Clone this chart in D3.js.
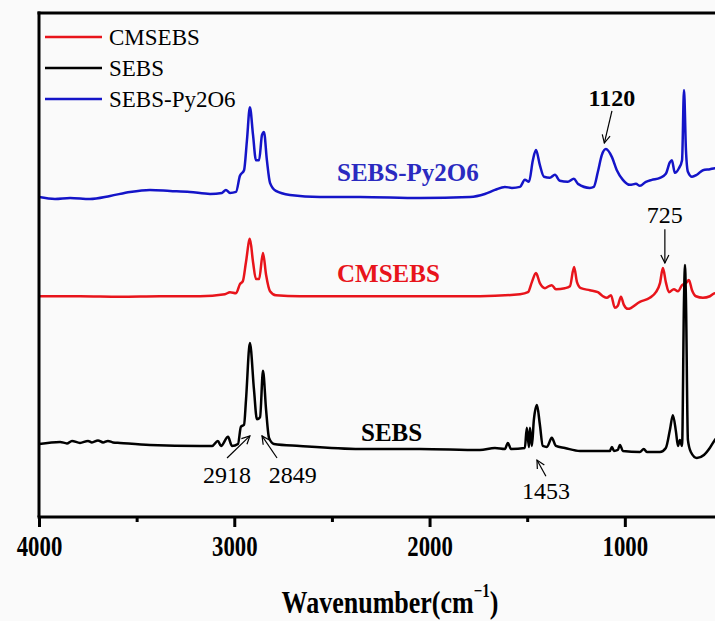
<!DOCTYPE html>
<html lang="en">
<head>
<meta charset="utf-8">
<title>FTIR spectra</title>
<script src="https://cdn.jsdelivr.net/npm/d3@7"></script>
<style>
  body { margin: 0; background: #fafafa; }
  svg { display: block; font-family: "Liberation Serif", "Times New Roman", serif; }
</style>
</head>
<body>
<svg id="chart" width="715" height="621"></svg>
<script>
// spectra: [wavenumber cm-1, intensity (a.u.)]
var sebs = [
  [4000,14.5],[3892,14.9],[3857,14.6],[3831,15.1],[3790,14.7],[3749,15.1],[3729,14.8],[3698,15.2],
  [3672,14.8],[3647,15.1],[3621,14.8],[3585,14.7],[3432,14.3],[3176,14.1],[3114,14.1],[3084,15.1],
  [3068,14.1],[3032,15.9],[3012,14.1],[2981,14.5],[2966,17.9],[2950,18.3],[2940,23.2],[2920,34.5],
  [2899,25.2],[2884,19.4],[2868,19.8],[2853,29.0],[2837,21.2],[2822,15.7],[2797,14.5],[2664,14.1],
  [2356,13.5],[2049,13.5],[1742,13.3],[1665,13.7],[1614,13.5],[1599,14.7],[1583,13.5],[1512,13.7],
  [1502,17.7],[1491,13.9],[1486,17.7],[1476,14.1],[1466,19.2],[1450,22.2],[1435,18.3],[1420,14.1],
  [1399,13.9],[1374,15.7],[1353,14.1],[1307,13.7],[1230,13.1],[1128,13.1],[1077,13.1],[1066,13.9],
  [1056,13.1],[1036,13.3],[1025,14.3],[1010,13.1],[923,12.9],[903,13.5],[887,12.9],[820,12.9],
  [790,13.7],[769,17.3],[754,20.2],[738,16.9],[728,14.1],[718,15.3],[707,14.1],[697,43.1],
  [692,50.0],[687,43.1],[677,15.3],[662,12.9],[631,11.7],[595,12.3],[565,13.7],[539,15.3],
  [488,16.9],[411,18.3]
];
var cmsebs = [
  [4000,43.8],[3790,43.8],[3585,43.7],[3380,43.8],[3176,43.8],[3048,44.2],[3022,44.6],[2991,44.4],
  [2971,46.2],[2956,46.8],[2940,50.6],[2920,55.2],[2904,50.6],[2889,47.2],[2873,47.2],[2853,52.4],
  [2837,48.0],[2817,44.8],[2787,44.0],[2664,43.8],[2356,43.8],[2049,43.8],[1742,43.8],[1537,44.2],
  [1496,44.6],[1476,46.6],[1455,48.4],[1435,46.4],[1409,45.4],[1389,45.8],[1374,46.0],[1353,45.2],
  [1307,45.4],[1281,45.8],[1260,49.6],[1245,46.6],[1225,45.4],[1179,45.0],[1138,44.6],[1112,43.8],
  [1092,43.5],[1071,44.0],[1051,41.5],[1036,41.9],[1020,43.7],[1005,42.1],[984,41.3],[923,42.7],
  [872,43.5],[841,44.6],[820,46.4],[805,49.4],[790,46.6],[774,44.6],[749,45.2],[728,44.8],
  [707,46.0],[687,46.4],[672,47.0],[656,45.0],[636,43.8],[600,43.5],[564,43.8],[539,44.4],[411,44.6]
];
var sebsPy = [
  [4000,63.5],[3918,63.1],[3841,63.3],[3739,63.1],[3636,63.7],[3534,64.5],[3432,64.9],[3329,64.7],
  [3227,64.5],[3124,64.1],[3063,64.3],[3043,64.9],[3022,64.3],[2991,64.5],[2971,67.7],[2950,68.8],
  [2935,74.8],[2920,81.3],[2904,75.8],[2889,70.8],[2873,70.8],[2858,75.8],[2848,76.4],[2833,70.8],
  [2817,66.3],[2787,64.7],[2715,63.9],[2561,63.5],[2356,63.5],[2049,63.3],[1793,63.5],[1717,64.1],
  [1665,64.9],[1614,65.5],[1578,65.3],[1537,65.5],[1512,66.9],[1491,66.5],[1471,70.8],[1455,72.8],
  [1435,69.8],[1414,67.5],[1384,67.3],[1358,67.9],[1333,66.7],[1292,66.5],[1261,67.1],[1240,66.1],
  [1179,65.3],[1159,65.5],[1138,68.5],[1118,71.8],[1097,73.0],[1066,71.4],[1041,68.8],[1010,66.9],
  [974,65.9],[943,66.1],[923,65.7],[892,66.5],[862,66.9],[820,67.3],[790,68.1],[769,70.4],
  [759,70.8],[744,68.3],[723,69.2],[707,70.8],[697,84.7],[687,72.8],[677,68.5],[656,67.5],
  [631,67.9],[600,68.8],[564,69.0],[539,69.2],[411,69.2]
];

var seriesNames = ["CMSEBS", "SEBS", "SEBS-Py2O6"];
var seriesColors = ["#e8141b", "#000000", "#1414c8"];
var majorTicks = [4000, 3000, 2000, 1000];
var minorTicks = [3500, 2500, 1500, 500];

// curve labels and peak annotations, in data units
var curveLabels = [
  {text: "SEBS-Py2O6", w: 2474, v: 66.7, color: "#2a2ac0"},
  {text: "CMSEBS", w: 2474, v: 46.6, color: "#e8141b"},
  {text: "SEBS", w: 2351, v: 15.1, color: "#000"}
];
var peakNotes = [
  {text: "1120", bold: true,  w: 1066, v: 81.5, from: [1066, 80.6], to: [1105, 74.2]},
  {text: "725",  bold: false, w: 795,  v: 58.3, from: [795, 57.1],  to: [795, 50.4]},
  {text: "2918", bold: false, w: 3037, v: 6.7,  from: [3037, 11.7], to: [2920, 16.1]},
  {text: "2849", bold: false, w: 2700, v: 6.7,  from: [2781, 11.7], to: [2858, 16.1]},
  {text: "1453", bold: false, w: 1404, v: 3.6,  from: [1404, 8.1],  to: [1450, 11.3]}
];

var svg = d3.select("#chart");
var padL = 39, padT = 13, padB = 517, padR = 742;
var serif = "'Liberation Serif', 'Times New Roman', serif";

svg.append("rect").attr("width", 715).attr("height", 621).attr("fill", "#fafafa");

var x = d3.scaleLinear().domain([4000, 400]).range([padL, padR]);
var y = d3.scaleLinear().domain([0, 100]).range([padB, padT]);

var defs = svg.append("defs");
defs.append("clipPath").attr("id", "plot")
  .append("rect").attr("x", padL).attr("y", padT).attr("width", padR - padL).attr("height", padB - padT);

var line = d3.line()
  .x(function(d) { return x(d[0]); })
  .y(function(d) { return y(d[1]); })
  .curve(d3.curveMonotoneX);

var all = [cmsebs, sebs, sebsPy];
// draw blue, red, then black on top
[2, 0, 1].forEach(function(i) {
  svg.append("path")
    .datum(all[i])
    .attr("clip-path", "url(#plot)")
    .attr("d", line)
    .attr("fill", "none")
    .attr("stroke", seriesColors[i])
    .attr("stroke-width", 2.5)
    .attr("stroke-linejoin", "round");
});

// frame: top and left edges
svg.append("line").attr("x1", padL - 1.5).attr("x2", 715).attr("y1", padT).attr("y2", padT)
  .attr("stroke", "#000").attr("stroke-width", 3);
svg.append("line").attr("x1", padL).attr("x2", padL).attr("y1", padT - 1.5).attr("y2", padB)
  .attr("stroke", "#000").attr("stroke-width", 3);

// bottom axis
var ax = svg.append("g").attr("transform", "translate(0," + padB + ")")
  .call(d3.axisBottom(x).tickValues(majorTicks).tickSize(10).tickSizeOuter(0).tickFormat(d3.format("d")));
ax.attr("font-family", serif);
ax.select(".domain").attr("stroke-width", 3).attr("d", "M" + (padL - 1.5) + ",0H" + padR);
ax.selectAll(".tick line").attr("stroke-width", 3);
ax.selectAll(".tick text")
  .attr("font-size", 24).attr("font-weight", "bold").attr("fill", "#000")
  .attr("y", 0).attr("dy", 0)
  .attr("transform", "translate(0,39) scale(0.95,1.25)");
svg.append("g").attr("transform", "translate(0," + padB + ")")
  .call(d3.axisBottom(x).tickValues(minorTicks).tickSize(5).tickFormat(""))
  .call(function(g) { g.select(".domain").remove(); })
  .selectAll(".tick line").attr("stroke-width", 3);

// axis title
var title = svg.append("text")
  .attr("transform", "translate(390,613) scale(1,1.22)")
  .attr("text-anchor", "middle").attr("font-size", 26).attr("font-weight", "bold");
title.append("tspan").text("Wavenumber(cm");
title.append("tspan").attr("font-size", 15).attr("dy", -13).text("\u22121");
title.append("tspan").attr("dy", 13).text(")");

// legend
var legend = svg.append("g");
seriesNames.forEach(function(name, i) {
  var ly = 37 + i * 31;
  legend.append("line").attr("x1", 45).attr("x2", 102).attr("y1", ly).attr("y2", ly)
    .attr("stroke", seriesColors[i]).attr("stroke-width", 2.5);
  legend.append("text").attr("x", 109).attr("y", ly + 8)
    .attr("font-size", 23).text(name);
});

// curve labels
curveLabels.forEach(function(c) {
  svg.append("text").attr("x", x(c.w)).attr("y", y(c.v))
    .attr("font-size", 25).attr("font-weight", "bold").attr("fill", c.color).text(c.text);
});

// peak annotations with arrows
defs.append("marker")
  .attr("id", "head").attr("viewBox", "0 0 10 10").attr("refX", 9).attr("refY", 5)
  .attr("markerWidth", 10).attr("markerHeight", 10).attr("markerUnits", "userSpaceOnUse")
  .attr("orient", "auto")
  .append("path").attr("d", "M1,1L9,5L1,9").attr("fill", "none").attr("stroke", "#000").attr("stroke-width", 1.2);

peakNotes.forEach(function(p) {
  svg.append("text").attr("x", x(p.w)).attr("y", y(p.v)).attr("text-anchor", "middle")
    .attr("font-size", 24).attr("font-weight", p.bold ? "bold" : "normal").text(p.text);
  svg.append("line")
    .attr("x1", x(p.from[0])).attr("y1", y(p.from[1]))
    .attr("x2", x(p.to[0])).attr("y2", y(p.to[1]))
    .attr("stroke", "#000").attr("stroke-width", 1.2).attr("marker-end", "url(#head)");
});
</script>
</body>
</html>
